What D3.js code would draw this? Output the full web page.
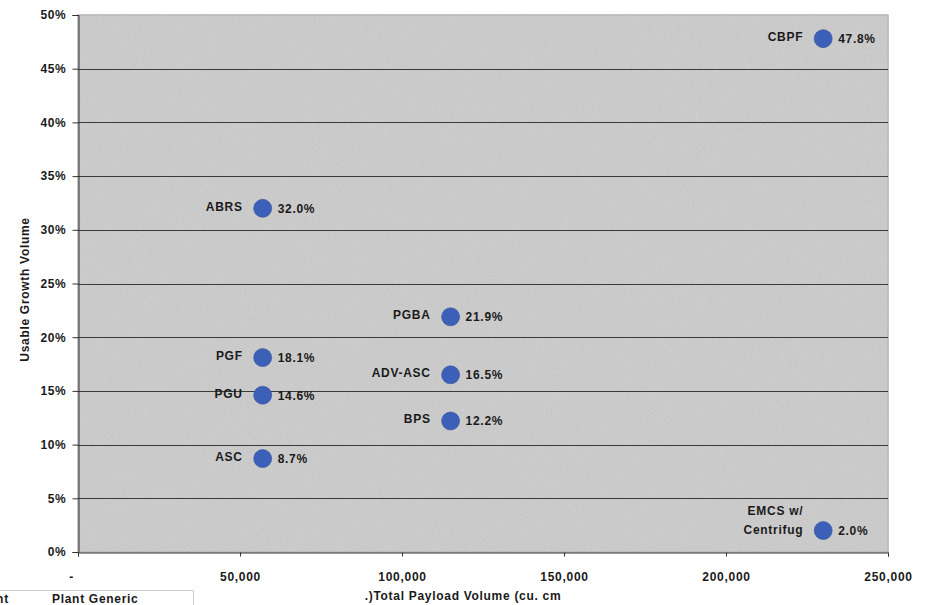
<!DOCTYPE html>
<html>
<head>
<meta charset="utf-8">
<script src="https://cdn.jsdelivr.net/npm/d3@7"></script>
<style>
  html, body { margin: 0; padding: 0; background: #ffffff; }
  svg { display: block; }
  text { font-family: "Liberation Sans", Arial, sans-serif; font-weight: bold; fill: #1a1a1a; letter-spacing: 0.7px; }
</style>
</head>
<body>
<svg id="chart" width="931" height="605"></svg>
<script>
// Payload hardware: total payload volume vs usable growth volume
const names = ["ABRS", "PGF", "PGU", "ASC", "PGBA", "ADV-ASC", "BPS", "CBPF", "EMCS w/\nCentrifug"];
const payloadVolume = [57000, 57000, 57000, 57000, 115000, 115000, 115000, 230000, 230000];
const growthVolume = [0.320, 0.181, 0.146, 0.087, 0.219, 0.165, 0.122, 0.478, 0.020];
const xTicks = [0, 50000, 100000, 150000, 200000, 250000];
const yTicks = [0, 0.05, 0.10, 0.15, 0.20, 0.25, 0.30, 0.35, 0.40, 0.45, 0.50];

const svg = d3.select("#chart");
const plot = { left: 78, right: 888, top: 15, bottom: 552 };
const FS = 12;

const x = d3.scaleLinear().domain([0, 250000]).range([plot.left, plot.right]);
const y = d3.scaleLinear().domain([0, 0.5]).range([plot.bottom, plot.top]);

// grainy grey plot background
const defs = svg.append("defs");
const f = defs.append("filter").attr("id", "grain").attr("x", 0).attr("y", 0).attr("width", 1).attr("height", 1);
f.append("feTurbulence").attr("type", "fractalNoise").attr("baseFrequency", 0.9).attr("numOctaves", 2).attr("seed", 3).attr("result", "noise");
f.append("feColorMatrix").attr("in", "noise").attr("type", "matrix")
  .attr("values", "0 0 0 0 0.76  0 0 0 0 0.76  0 0 0 0 0.76  0.9 0 0 0 -0.3").attr("result", "tint");
f.append("feComposite").attr("in", "tint").attr("in2", "SourceGraphic").attr("operator", "atop");

svg.append("rect")
  .attr("x", plot.left).attr("y", plot.top)
  .attr("width", plot.right - plot.left).attr("height", plot.bottom - plot.top)
  .attr("fill", "#c8c8c8")
  .attr("stroke", "#8a8a8a").attr("stroke-width", 1);

svg.append("rect")
  .attr("x", plot.left).attr("y", plot.top)
  .attr("width", plot.right - plot.left).attr("height", plot.bottom - plot.top)
  .attr("fill", "#c8c8c8")
  .attr("filter", "url(#grain)")
  .attr("opacity", 0.6);

// horizontal gridlines
svg.append("g")
  .selectAll("line")
  .data(yTicks.filter(d => d > 0 && d < 0.5))
  .join("line")
  .attr("x1", plot.left).attr("x2", plot.right)
  .attr("y1", d => Math.round(y(d)) + 0.5).attr("y2", d => Math.round(y(d)) + 0.5)
  .attr("stroke", "#3a3a3a").attr("stroke-width", 1);

function styleTicks(g) {
  g.select(".domain").attr("stroke", "#333");
  g.selectAll(".tick line").attr("stroke", "#333");
  g.selectAll(".tick text")
    .attr("font-size", FS).attr("fill", "#222")
    .style("font-family", "Liberation Sans, Arial, sans-serif")
    .style("font-weight", "bold").style("letter-spacing", "0.7px");
}

// y axis
const yAxis = d3.axisLeft(y).tickValues(yTicks).tickFormat(d3.format(".0%")).tickSize(6).tickPadding(6);
const gy = svg.append("g").attr("transform", `translate(${plot.left + 0.5},0)`).call(yAxis);
styleTicks(gy);

// x axis
const xAxis = d3.axisBottom(x).tickValues(xTicks)
  .tickFormat(d => d === 0 ? "-" : d3.format(",")(d)).tickSize(4).tickPadding(16);
const gx = svg.append("g").attr("transform", `translate(0,${plot.bottom + 0.5})`).call(xAxis);
styleTicks(gx);
gx.selectAll(".tick").filter(d => d === 0).select("text").attr("dx", -7);

// axis titles
svg.append("text")
  .attr("transform", `translate(29,${(plot.top + plot.bottom) / 2 + 6}) rotate(-90)`)
  .attr("text-anchor", "middle").attr("font-size", FS)
  .text("Usable Growth Volume");

svg.append("text")
  .attr("x", 463).attr("y", 600)
  .attr("text-anchor", "middle").attr("font-size", FS)
  .text(".)Total Payload Volume (cu. cm");

// points
const data = names.map((n, i) => ({ name: n, vx: payloadVolume[i], vy: growthVolume[i] }));

const pts = svg.append("g").selectAll("g").data(data).join("g")
  .attr("transform", d => `translate(${x(d.vx)},${y(d.vy)})`);

pts.append("circle").attr("r", 9).attr("fill", "#3c5fb8").attr("stroke", "#32509e").attr("stroke-width", 0.6);

pts.append("text")
  .attr("x", 15).attr("y", 4.5)
  .attr("font-size", FS)
  .text(d => d3.format(".1%")(d.vy));

pts.each(function (d) {
  const lines = d.name.split("\n");
  const t = d3.select(this).append("text")
    .attr("text-anchor", "end").attr("font-size", FS);
  const startY = lines.length > 1 ? -15.5 : 2.5;
  lines.forEach((ln, k) => {
    t.append("tspan").attr("x", -20).attr("y", startY + k * 19).text(ln);
  });
});

// partially visible table below the chart
svg.append("path")
  .attr("d", "M0,590.5 H193.5 V605")
  .attr("fill", "none").attr("stroke", "#d0d0d0").attr("stroke-width", 1);
svg.append("text").attr("x", -24).attr("y", 603).attr("font-size", FS).text("Plant");
svg.append("text").attr("x", 52).attr("y", 603).attr("font-size", FS).text("Plant Generic");
</script>
</body>
</html>
